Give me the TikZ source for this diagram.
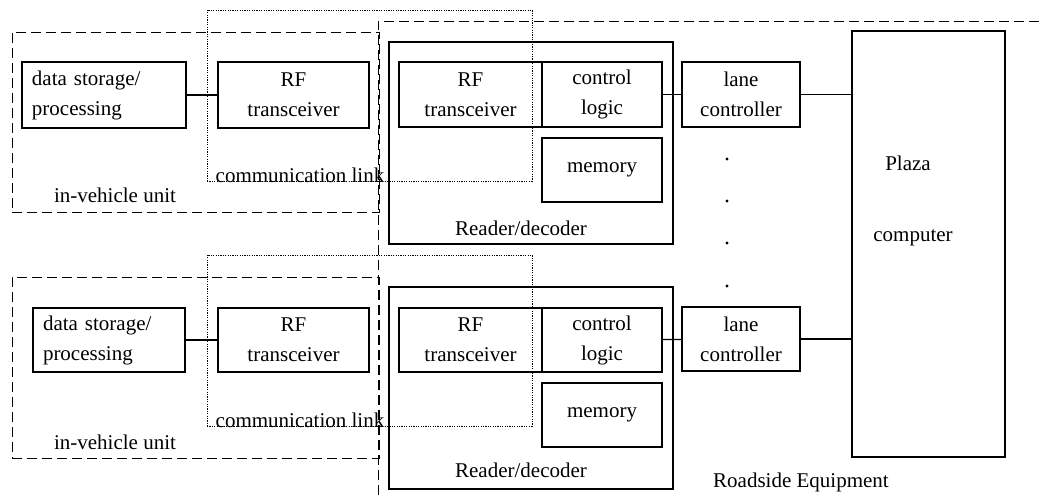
\documentclass[tikz,border=0pt]{standalone}
\usepackage{fontspec}
\setmainfont{Liberation Serif}
\usetikzlibrary{fit}
\begin{document}
\begin{tikzpicture}[x=0.5pt,y=-0.5pt,
  txt/.style={font=\fontsize{10.5}{15}\selectfont, inner sep=0pt},
  box/.style={draw, line width=1.2pt, inner sep=0pt, txt, align=center},
  thinbox/.style={draw, line width=0.6pt, inner sep=0pt},
  dashbox/.style={draw, line width=0.5pt, dash pattern=on 5pt off 2.5pt, inner sep=0pt},
  dotbox/.style={draw, line width=0.5pt, dash pattern=on 0.6pt off 0.6pt, inner sep=0pt},
  conn/.style={draw, line width=0.6pt},
  dot/.style={fill=black}]
\useasboundingbox (0,0) rectangle (1041,495);

% Roadside equipment boundary
\coordinate (rsa) at (378,495);
\coordinate (rsb) at (378,21);
\coordinate (rsc) at (1041,21);
\draw[dashbox] (rsa) -- (rsb) -- (rsc);
\node[txt] (rsl) at (801,482) {Roadside Equipment};

% ---------- top lane ----------
\node[dashbox, fit={(12,32)(379,212)}] (ivu1) {};
\node[dotbox, fit={(207,10)(532,181)}] (cl1) {};
\node[thinbox, fit={(389,42)(673,244)}] (rd1) {};
\node[box, minimum width=82pt, minimum height=33pt, text width=72pt, align=left] (ds1) at (104,95) {data storage/\\processing};
\node[box, minimum width=75.5pt, minimum height=33pt] (rf1) at (293.5,95) {RF\\transceiver};
\node[box, minimum width=71.5pt, minimum height=32.5pt] (rrf1) at (470.5,94.5) {RF\\transceiver};
\node[box, minimum width=60pt, minimum height=32.5pt] (ctl1) at (602,94.5) {control\\logic};
\node[box, minimum width=60pt, minimum height=32pt] (mem1) at (602,170) {memory};
\node[box, minimum width=59pt, minimum height=32.5pt] (lc1) at (741,94.5) {lane\\controller};
\node[txt] (cll1) at (300,175) {communication link};
\node[txt] (ivl1) at (115,195) {in-vehicle unit};
\node[txt] (rdl1) at (521,228) {Reader/decoder};

% ---------- bottom lane ----------
\node[dashbox, fit={(12,277)(379,458)}] (ivu2) {};
\node[dotbox, fit={(207,255)(532,426)}] (cl2) {};
\node[thinbox, fit={(389,287)(673,489)}] (rd2) {};
\node[box, minimum width=76pt, minimum height=32pt, text width=66pt, align=left] (ds2) at (109,340) {data storage/\\processing};
\node[box, minimum width=75.5pt, minimum height=32pt] (rf2) at (293.5,340) {RF\\transceiver};
\node[box, minimum width=71.5pt, minimum height=32pt] (rrf2) at (470.5,340) {RF\\transceiver};
\node[box, minimum width=60pt, minimum height=32pt] (ctl2) at (602,340) {control\\logic};
\node[box, minimum width=60pt, minimum height=32pt] (mem2) at (602,415) {memory};
\node[box, minimum width=59pt, minimum height=32pt] (lc2) at (741,339) {lane\\controller};
\node[txt] (cll2) at (300,420) {communication link};
\node[txt] (ivl2) at (115,442) {in-vehicle unit};
\node[txt] (rdl2) at (521,470) {Reader/decoder};

% ---------- plaza computer ----------
\node[box, minimum width=76.5pt, minimum height=213pt] (pc) at (928.5,244) {};
\node[txt] (pcl1) at (908,163) {Plaza};
\node[txt] (pcl2) at (913,238) {computer};

% ellipsis dots
\fill[dot] (727,159) circle (1.6);
\fill[dot] (727,201) circle (1.6);
\fill[dot] (727,243) circle (1.6);
\fill[dot] (727,286) circle (1.6);

% connectors
\draw[conn] (ds1) -- (rf1);
\draw[conn] (ctl1) -- (lc1);
\draw[conn] (lc1) -- (lc1 -| pc.west);
\draw[conn] (ds2) -- (rf2);
\draw[conn] (ctl2) -- (lc2);
\draw[conn] (lc2) -- (lc2 -| pc.west);
\end{tikzpicture}
\end{document}
